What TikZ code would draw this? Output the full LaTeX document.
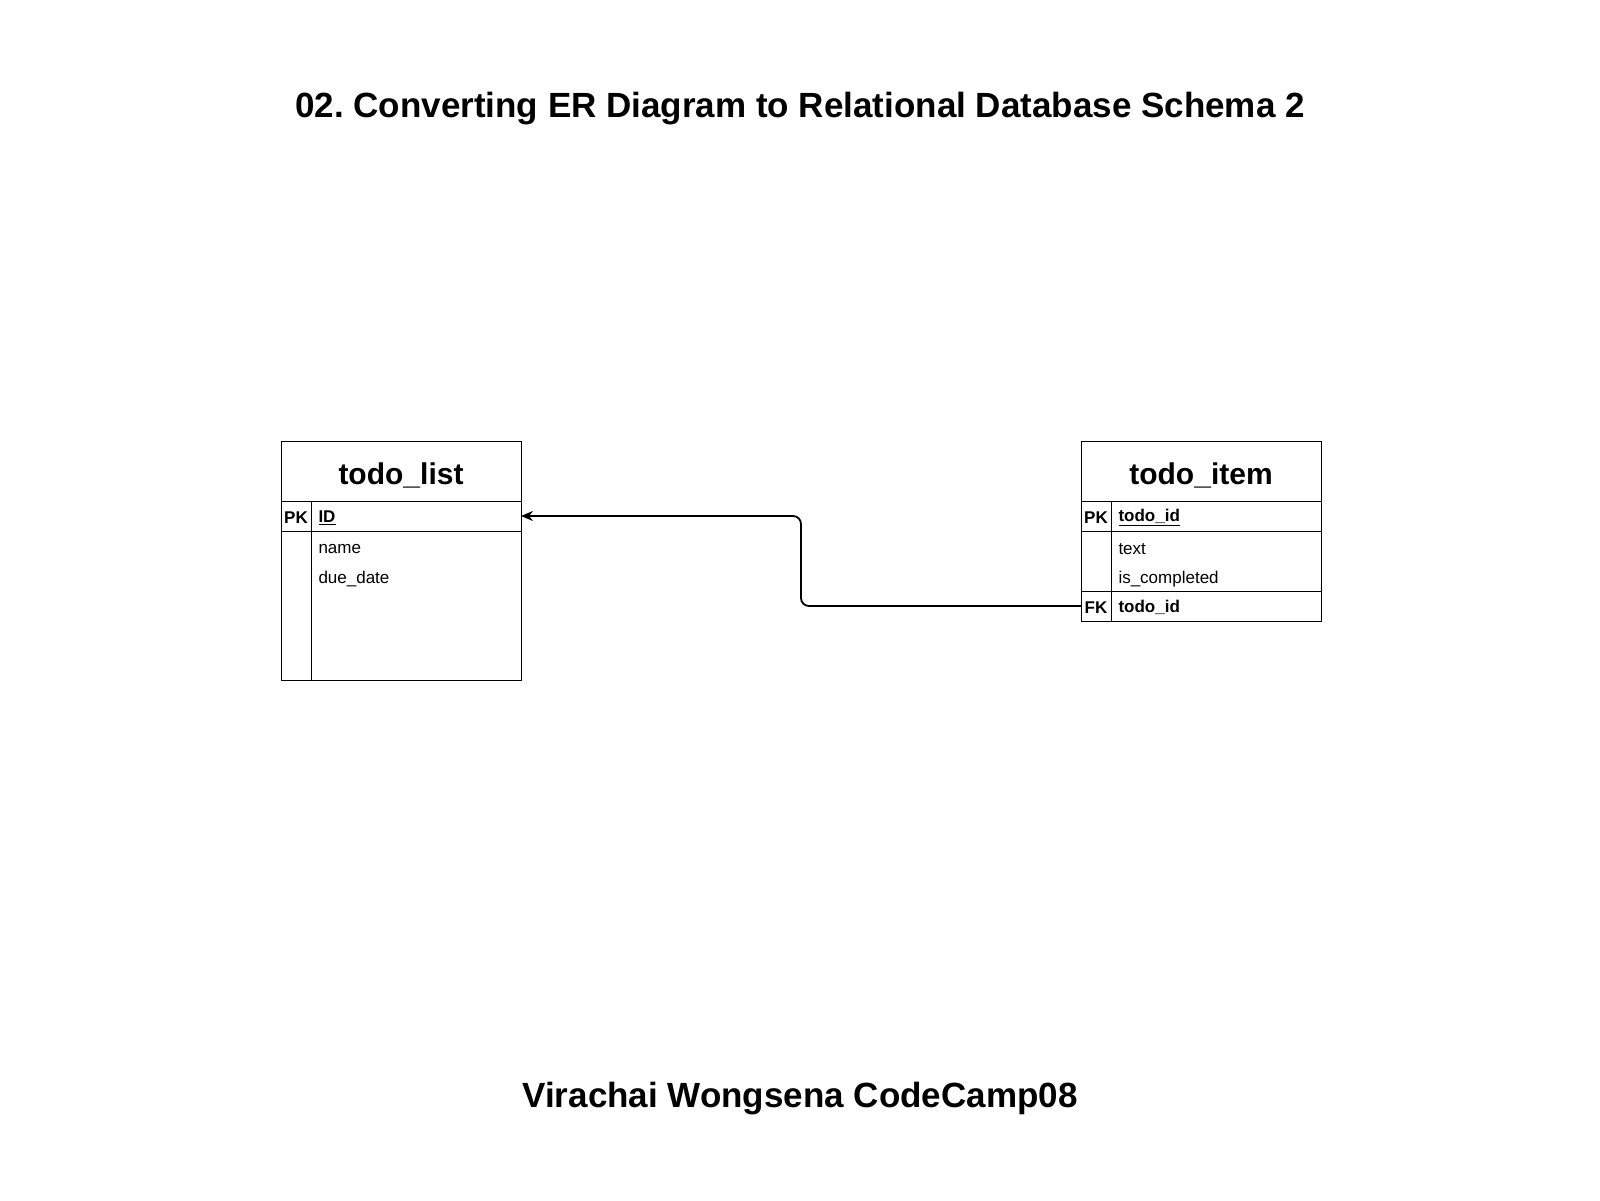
\documentclass[tikz,border=0pt]{standalone}
\usepackage{fontspec}
\setmainfont{Liberation Sans}
\frenchspacing
\usetikzlibrary{arrows.meta,positioning}
\tikzset{
	tblhead/.style   = {draw, rectangle, minimum width=240pt, minimum height=60pt,
		inner sep=0pt, outer sep=0pt, text height=33pt, text depth=6pt,
		font=\fontsize{30}{35}\selectfont\bfseries},
	keycell/.style   = {draw, rectangle, minimum width=30pt, inner sep=0pt, outer sep=0pt,
		text height=15pt, text depth=0pt, font=\fontsize{17}{20}\selectfont\bfseries},
	fieldcell/.style = {draw, rectangle, minimum width=210pt, inner sep=0pt, outer sep=0pt},
	field/.style     = {anchor=west, inner sep=0pt, font=\fontsize{17}{20}\selectfont},
	heading/.style   = {font=\fontsize{35}{42}\selectfont\bfseries},
	fkarrow/.style   = {-{Stealth[length=12pt,width=10pt]}, line width=1.8pt, rounded corners=8pt}
}

\begin{document}
\begin{tikzpicture}[x=1pt, y=-1pt, line width=1pt]
	\useasboundingbox (0,0) rectangle (1600,1200);

	\node[heading] (title) at (800,109) {02. Converting ER Diagram to Relational Database Schema 2};
	\node[heading] (author) at (800,1099) {Virachai Wongsena CodeCamp08};

	% todo_list
	\node[tblhead, anchor=north west] (listHead) at (281,441) {todo\_list};
	\node[keycell, minimum height=30pt, anchor=north west] (listPKkey) at (listHead.south west) {PK};
	\node[fieldcell, minimum height=30pt, anchor=north west] (listPKfield) at (listPKkey.north east) {};
	\node[keycell, minimum height=149pt, anchor=north west] (listBodykey) at (listPKkey.south west) {};
	\node[fieldcell, minimum height=149pt, anchor=north west] (listBodyfield) at (listBodykey.north east) {};
	\node[field, right=7pt of listPKfield.west, yshift=-1.5pt, font=\fontsize{17}{20}\selectfont\bfseries] (listID) {\underline{ID}};
	\node[field] (listName) at ([xshift=7pt,yshift=-18pt]listBodyfield.north west) {name};
	\node[field] (listDue) at ([xshift=7pt,yshift=-48pt]listBodyfield.north west) {due\_date};

	% todo_item
	\node[tblhead, anchor=north west] (itemHead) at (1081,441) {todo\_item};
	\node[keycell, minimum height=30pt, anchor=north west] (itemPKkey) at (itemHead.south west) {PK};
	\node[fieldcell, minimum height=30pt, anchor=north west] (itemPKfield) at (itemPKkey.north east) {};
	\node[keycell, minimum height=60pt, anchor=north west] (itemBodykey) at (itemPKkey.south west) {};
	\node[fieldcell, minimum height=60pt, anchor=north west] (itemBodyfield) at (itemBodykey.north east) {};
	\node[keycell, minimum height=30pt, anchor=north west] (itemFKkey) at (itemBodykey.south west) {FK};
	\node[fieldcell, minimum height=30pt, anchor=north west] (itemFKfield) at (itemFKkey.north east) {};
	\node[field, right=7pt of itemPKfield.west, yshift=-1.5pt, font=\fontsize{17}{20}\selectfont\bfseries] (itemID) {\underline{todo\_id}};
	\node[field] (itemText) at ([xshift=7pt,yshift=-18pt]itemBodyfield.north west) {text};
	\node[field] (itemDone) at ([xshift=7pt,yshift=-48pt]itemBodyfield.north west) {is\_completed};
	\node[field, right=7pt of itemFKfield.west, yshift=-1.5pt, font=\fontsize{17}{20}\selectfont\bfseries] (itemFK) {todo\_id};

	% foreign key
	\draw[fkarrow] (itemFKkey.west) -- ++(-280,0) |- (listPKfield.east);
\end{tikzpicture}
\end{document}
